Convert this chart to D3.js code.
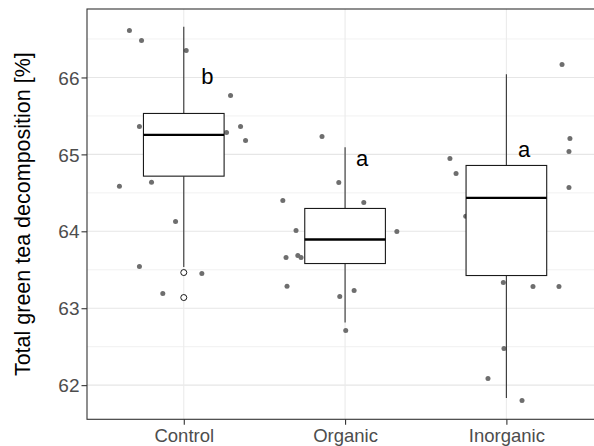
<!DOCTYPE html>
<html>
<head>
<meta charset="utf-8">
<script src="https://cdn.jsdelivr.net/npm/d3@7"></script>
<style>
  html, body { margin: 0; padding: 0; background: #fff; }
  svg { display: block; font-family: "Liberation Sans", Arial, sans-serif; }
</style>
</head>
<body>
<svg id="chart" width="594" height="446"></svg>
<script>
// ---- data ----
const categories = ["Control", "Organic", "Inorganic"];
const yTicks = [62, 63, 64, 65, 66];
const yLabel = "Total green tea decomposition [%]";

// boxplot statistics per category
const lowerWhisker = [63.537, 62.814, 61.834];
const q1 = [64.717, 63.581, 63.425];
const median = [65.254, 63.893, 64.434];
const q3 = [65.532, 64.297, 64.856];
const upperWhisker = [66.658, 65.094, 66.043];

// outliers (category, value)
const outlierCat = ["Control", "Control"];
const outlierVal = [63.464, 63.139];

// jittered observations: category, horizontal jitter (in category units), value
const pointCat = [
  "Control","Control","Control","Control","Control","Control","Control",
  "Control","Control","Control","Control","Control","Control","Control",
  "Organic","Organic","Organic","Organic","Organic","Organic","Organic",
  "Organic","Organic","Organic","Organic","Organic","Organic",
  "Inorganic","Inorganic","Inorganic","Inorganic","Inorganic","Inorganic","Inorganic",
  "Inorganic","Inorganic","Inorganic","Inorganic","Inorganic","Inorganic"
];
const pointJitter = [
  -0.337, -0.262, 0.015, 0.290, -0.275, 0.352, 0.265,
  0.383, -0.399, -0.200, -0.051, -0.275, 0.112, -0.130,
  -0.143, -0.039, -0.386, 0.116, -0.304, 0.321, -0.366,
  -0.293, -0.273, -0.360, 0.056, -0.033, 0.004,
  0.345, 0.394, 0.388, -0.350, -0.312, 0.388, -0.252,
  -0.019, 0.165, 0.326, -0.015, -0.114, 0.097
];
const pointVal = [
  66.611, 66.481, 66.351, 65.766, 65.363, 65.363, 65.285,
  65.181, 64.587, 64.639, 64.127, 63.542, 63.451, 63.191,
  65.233, 64.635, 64.400, 64.374, 64.010, 63.997, 63.660,
  63.685, 63.660, 63.286, 63.230, 63.152, 62.710,
  66.169, 65.207, 65.038, 64.947, 64.752, 64.570, 64.196,
  63.334, 63.282, 63.282, 62.476, 62.086, 61.800
];

// significance letters: text, x offset (category units), value
const letterText = ["b", "a", "a"];
const letterDx = [0.146, 0.105, 0.11];
const letterVal = [65.92, 64.85, 64.96];

// ---- layout ----
const svg = d3.select("#chart");
const panel = { left: 87, top: 9, bottom: 419.3 };
const nCat = categories.length;
const step = 161.3;
const panelRight = panel.left + step * (nCat - 1 + 1.2);

const x = d3.scalePoint().domain(categories).range([panel.left, panelRight]).padding(0.6);
const y = d3.scaleLinear().domain([61.556, 66.89]).range([panel.bottom, panel.top]);
const bw = x.step() * 0.5;

svg.append("defs").append("clipPath").attr("id", "clip")
  .append("rect").attr("x", panel.left).attr("y", panel.top)
  .attr("width", panelRight - panel.left).attr("height", panel.bottom - panel.top);

const g = svg.append("g").attr("clip-path", "url(#clip)");

// grid
const minor = d3.range(61.5, 67, 1).filter(v => y(v) > panel.top && y(v) < panel.bottom);
g.selectAll(".minor").data(minor).join("line")
  .attr("x1", panel.left).attr("x2", panelRight)
  .attr("y1", d => y(d)).attr("y2", d => y(d))
  .attr("stroke", "#ebebeb").attr("stroke-width", 0.7);
g.selectAll(".major").data(yTicks).join("line")
  .attr("x1", panel.left).attr("x2", panelRight)
  .attr("y1", d => y(d)).attr("y2", d => y(d))
  .attr("stroke", "#e6e6e6").attr("stroke-width", 1.1);
g.selectAll(".vmajor").data(categories).join("line")
  .attr("x1", d => x(d)).attr("x2", d => x(d))
  .attr("y1", panel.top).attr("y2", panel.bottom)
  .attr("stroke", "#ebebeb").attr("stroke-width", 1.1);

// jittered points
g.selectAll(".pt").data(pointVal).join("circle")
  .attr("cx", (d, i) => x(pointCat[i]) + pointJitter[i] * x.step())
  .attr("cy", d => y(d))
  .attr("r", 2.5)
  .attr("fill", "#6e6e6e");

// boxplots
categories.forEach((c, i) => {
  const cx = x(c);
  g.append("line").attr("x1", cx).attr("x2", cx)
    .attr("y1", y(q3[i])).attr("y2", y(upperWhisker[i]))
    .attr("stroke", "#333").attr("stroke-width", 1.1);
  g.append("line").attr("x1", cx).attr("x2", cx)
    .attr("y1", y(q1[i])).attr("y2", y(lowerWhisker[i]))
    .attr("stroke", "#333").attr("stroke-width", 1.1);
  g.append("rect")
    .attr("x", cx - bw / 2).attr("y", y(q3[i]))
    .attr("width", bw).attr("height", y(q1[i]) - y(q3[i]))
    .attr("fill", "#fff").attr("stroke", "#1a1a1a").attr("stroke-width", 1.1);
  g.append("line").attr("x1", cx - bw / 2).attr("x2", cx + bw / 2)
    .attr("y1", y(median[i])).attr("y2", y(median[i]))
    .attr("stroke", "#000").attr("stroke-width", 2.4);
});

// outliers
g.selectAll(".out").data(outlierVal).join("circle")
  .attr("cx", (d, i) => x(outlierCat[i]))
  .attr("cy", d => y(d))
  .attr("r", 3)
  .attr("fill", "#fff").attr("stroke", "#000").attr("stroke-width", 0.9);

// letters
svg.selectAll(".letter").data(letterText).join("text")
  .attr("x", (d, i) => x(categories[i]) + letterDx[i] * x.step())
  .attr("y", (d, i) => y(letterVal[i]))
  .attr("text-anchor", "middle")
  .attr("font-size", "22px")
  .attr("fill", "#000")
  .text(d => d);

// panel border
svg.append("rect")
  .attr("x", panel.left).attr("y", panel.top)
  .attr("width", panelRight - panel.left).attr("height", panel.bottom - panel.top)
  .attr("fill", "none").attr("stroke", "#333").attr("stroke-width", 1.1);

// y axis
const yAxis = d3.axisLeft(y).tickValues(yTicks).tickFormat(d3.format("d")).tickSize(5.5).tickPadding(2);
const ya = svg.append("g").attr("transform", `translate(${panel.left},0)`).call(yAxis);
ya.select(".domain").remove();
ya.selectAll(".tick line").attr("stroke", "#333").attr("stroke-width", 1.1);
ya.selectAll(".tick text").attr("fill", "#4d4d4d").attr("font-size", "19px")
  .attr("font-family", "Liberation Sans, Arial, sans-serif").attr("dy", "0.35em");

// x axis
const xAxis = d3.axisBottom(x).tickSize(5.5).tickPadding(4);
const xa = svg.append("g").attr("transform", `translate(0,${panel.bottom})`).call(xAxis);
xa.select(".domain").remove();
xa.selectAll(".tick line").attr("stroke", "#333").attr("stroke-width", 1.1);
xa.selectAll(".tick text").attr("fill", "#4d4d4d").attr("font-size", "18.5px")
  .attr("font-family", "Liberation Sans, Arial, sans-serif").attr("dy", "0.71em");

// y label
svg.append("text")
  .attr("transform", `translate(29.5,${(panel.top + panel.bottom) / 2}) rotate(-90)`)
  .attr("text-anchor", "middle")
  .attr("font-size", "21.5px")
  .attr("fill", "#000")
  .text(yLabel);
</script>
</body>
</html>
